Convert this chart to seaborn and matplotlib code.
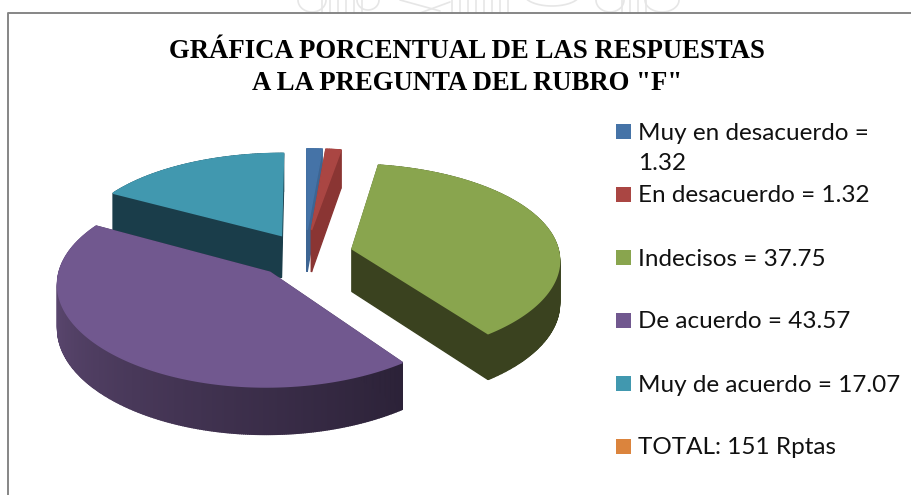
import numpy as np
import pandas as pd
import matplotlib
matplotlib.use('Agg')
import matplotlib.pyplot as plt
import seaborn as sns

# Datos del grafico
categorias = ['Muy en desacuerdo', 'En desacuerdo', 'Indecisos', 'De acuerdo', 'Muy de acuerdo']
valores = [1.32, 1.32, 37.75, 43.57, 17.07]
etiquetas = ['Muy en desacuerdo =\n1.32', 'En desacuerdo = 1.32', 'Indecisos = 37.75',
             'De acuerdo = 43.57', 'Muy de acuerdo = 17.07', 'TOTAL: 151 Rptas']
titulo = ['GRÁFICA PORCENTUAL DE LAS RESPUESTAS', 'A LA PREGUNTA DEL RUBRO "F"']

# Estilos
colores = ['#4573A7', '#AA4643', '#89A54E', '#71588F', '#4198AF', '#DB843D']
lados = [('#3d6593', '#3d6593'), ('#8a3533', '#8a3533'), ('#3a421f', '#3a421f'),
         ('#6a5381', '#2c2238'), ('#1a3d4a', '#1a3d4a')]
explode = [0.26, 0.26, 0.235, 0.25, 0.23]

# Geometria de la proyeccion
CX, CY = 305, 254
RX, RY = 207, 96
KX, KY = 0.10, 0.12
DEPTH = 43


def proyectar(x, y, z=0.0):
    x, y = np.asarray(x), np.asarray(y)
    return CX + RX * x / (1 + KX * y), CY - RY * y / (1 + KY * y) + z * DEPTH * (1 - 0.09 * y)


def dibujar_porcion(ax, ini, fin, exp, color, lado):
    medio = np.radians((ini + fin) / 2)
    ox, oy = exp * np.sin(medio), exp * np.cos(medio)
    n = max(int((fin - ini) * 2), 4)
    t = np.radians(np.linspace(ini, fin, n + 1))
    px = ox + np.sin(t)
    py = oy + np.cos(t)
    # contorno completo: centro, arco, centro
    gx = np.r_[ox, px, ox]
    gy = np.r_[oy, py, oy]
    tonos = sns.blend_palette([lado[1], lado[0]], n)
    segmentos = []
    for i in range(len(gx) - 1):
        es_arco = 0 < i < len(gx) - 2
        tono = tonos[i - 1] if es_arco else lado[1]
        segmentos.append(((gy[i] + gy[i + 1]) / 2, i, tono))
    # de atras hacia adelante
    for _, i, tono in sorted(segmentos, key=lambda a: -a[0]):
        x0, y0 = proyectar(gx[i:i + 2], gy[i:i + 2])
        x1, y1 = proyectar(gx[i:i + 2], gy[i:i + 2], 1.0)
        ax.fill(np.r_[x0, x1[::-1]], np.r_[y0, y1[::-1]], color=tono, lw=1.0)
    sx, sy = proyectar(gx, gy)
    ax.fill(sx, sy, color=color, lw=1.2)


sns.set_theme(style='white')
plt.rcParams['font.family'] = ['Lato', 'DejaVu Sans']

fig = plt.figure(figsize=(9.12, 4.95), dpi=100)
ax = fig.add_axes([0, 0, 1, 1])
ax.set_xlim(0, 912)
ax.set_ylim(495, 0)
ax.axis('off')

# Sello de agua asomando por encima del marco
gris = '#e6e6e6'
for xv in list(range(322, 364, 8)) + list(range(452, 516, 8)) + list(range(622, 650, 8)):
    ax.plot([xv, xv], [0, 13], color=gris, lw=1.2)
for xc, yc, ra, rb in [(312, 0, 14, 12), (368, 0, 11, 10), (552, -6, 28, 12), (610, 0, 14, 12), (662, 0, 17, 12)]:
    a = np.linspace(0, np.pi, 60)
    ax.plot(xc + ra * np.cos(a), yc + rb * np.sin(a), color=gris, lw=1.2)
ax.plot([400, 440], [0, 11], color=gris, lw=1.2)
ax.plot([420, 450], [13, 2], color=gris, lw=1.2)

# Marco del grafico
ax.plot([8.5, 8.5, 912], [495, 13, 13], color='#868686', lw=1.4)

# Pastel 3D: angulos a partir de los valores
fracciones = np.array(valores) / sum(valores) * 360
bordes = np.r_[0, np.cumsum(fracciones)]
orden = [4, 0, 1, 2, 3]
for i in orden:
    dibujar_porcion(ax, bordes[i], bordes[i + 1], explode[i], colores[i], lados[i])

# Leyenda
ley = pd.DataFrame({'etiqueta': etiquetas, 'fila': range(len(etiquetas))})
ley['x'] = 623.5
ley['y'] = 131.5 + 63 * ley['fila']
sns.scatterplot(data=ley, x='x', y='y', hue='etiqueta', palette=colores, marker='s',
                s=117, linewidth=0, legend=False, ax=ax)
for _, fila in ley.iterrows():
    for j, linea in enumerate(fila['etiqueta'].split('\n')):
        ax.text(638, fila['y'] + 8 + 31 * j, linea, fontsize=17.5, color='#111111',
                va='baseline', ha='left')

ax.set_xlabel('')
ax.set_ylabel('')

for j, linea in enumerate(titulo):
    ax.text(467, 51 + 32 * j, linea, family='Liberation Serif', weight='bold', fontsize=19.3,
            color='black', ha='center', va='center')

fig.savefig('out.png', dpi=100)
